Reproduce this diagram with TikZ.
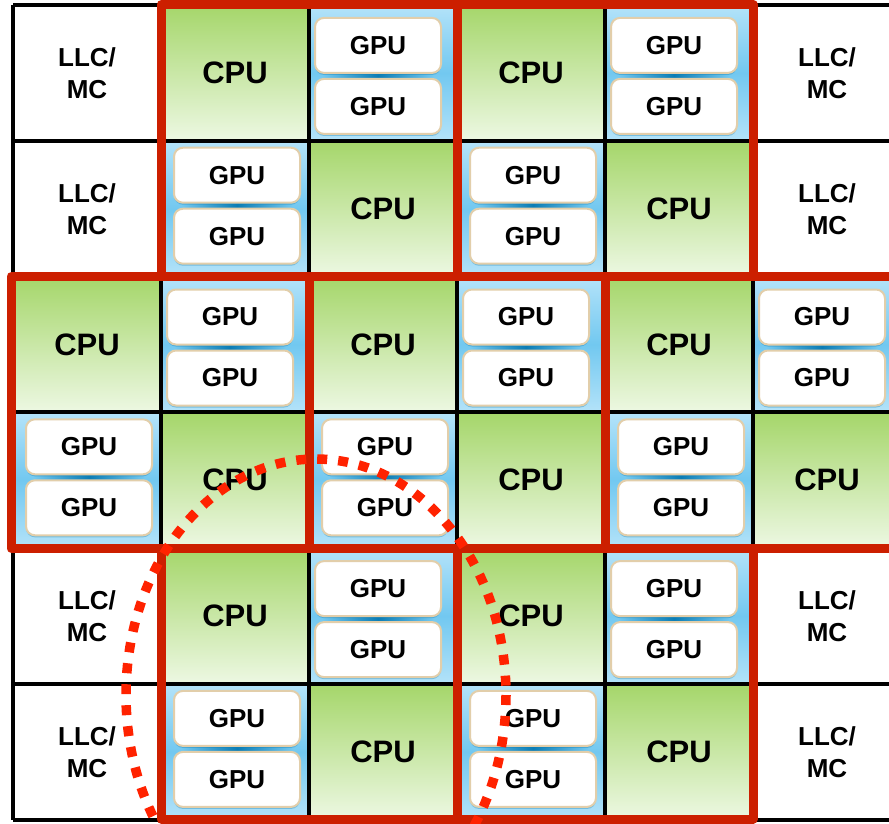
\documentclass[tikz,border=0pt]{standalone}
\usepackage{fontspec}
\setmainfont{Liberation Sans}
\usetikzlibrary{shadows}
\definecolor{cpuTop}{HTML}{A5D66A}
\definecolor{cpuBot}{HTML}{EDF8E3}
\definecolor{gpuSky}{HTML}{B4E3F9}
\definecolor{gpuMid}{HTML}{72C8F0}
\definecolor{gpuDeep}{HTML}{0B7DB5}
\definecolor{boxEdge}{HTML}{E2CEAA}
\definecolor{redLine}{HTML}{CC1F00}
\definecolor{dotRed}{HTML}{FF2200}
\tikzset{
  cell/.style={minimum width=148pt,minimum height=135.8pt,inner sep=0pt,outer sep=0pt,
    align=center,font=\bfseries\fontsize{26}{32}\selectfont},
  cpu/.style={cell,top color=cpuTop,bottom color=cpuBot,font=\bfseries\fontsize{31}{36}\selectfont},
  gpucell/.style={cell,top color=gpuSky,bottom color=gpuSky,middle color=gpuMid},
  llc/.style={cell,fill=white},
  gpubox/.style={draw=boxEdge,line width=2pt,fill=white,rounded corners=9pt,
    minimum width=126pt,minimum height=55pt,inner sep=0pt,
    font=\bfseries\fontsize{26}{30}\selectfont,
    drop shadow={shadow xshift=0pt,shadow yshift=-2pt,fill=gpuDeep,opacity=0.35}},
  gridline/.style={line width=4pt,black},
  block/.style={draw=redLine,line width=9pt,line join=round},
  ring/.style={draw=dotRed,line width=9.5pt,dash pattern=on 10pt off 11pt}
}
\begin{document}
\begin{tikzpicture}[x=1pt,y=-1pt]
\useasboundingbox (0,0) rectangle (889,823);
\clip (0,0) rectangle (889,823);
% tiles, row by row
\foreach \cells [count=\r] in {{L,C,G,C,G,L},{L,G,C,G,C,L},{C,G,C,G,C,G},{G,C,G,C,G,C},{L,C,G,C,G,L},{L,G,C,G,C,L}}{
  \foreach \t [count=\c] in \cells {
    \pgfmathsetmacro\cx{13+148*(\c-0.5)}
    \pgfmathsetmacro\cy{5+135.8*(\r-0.5)}
    \if\t L \node[llc] (cell-\r-\c) at (\cx,\cy) {LLC/\\MC};\fi
    \if\t C \node[cpu] (cell-\r-\c) at (\cx,\cy) {CPU};\fi
    \if\t G
      \pgfmathsetmacro\dx{isodd(\r)?-5:2}
      \pgfmathsetmacro\dy{isodd(\r)?3:-3}
      \node[gpucell] (cell-\r-\c) at (\cx,\cy) {};
      \shade[left color=gpuMid,right color=gpuMid,middle color=gpuDeep] (\cx+\dx-55,\cy+\dy-4) rectangle (\cx+\dx+55,\cy+\dy+4);
      \node[gpubox] (gpu-\r-\c-a) at (\cx+\dx,\cy+\dy-30.5) {GPU};
      \node[gpubox] (gpu-\r-\c-b) at (\cx+\dx,\cy+\dy+30.5) {GPU};
    \fi
  }
}
% grid
\foreach \c in {0,...,6}
\draw[gridline] (13+148*\c,5) -- (13+148*\c,820);
\foreach \r in {0,...,6}
\draw[gridline] (13,5+135.8*\r) -- (901,5+135.8*\r);
% red blocks
\draw[block] (161,4.5) rectangle (457,276.6) (457,4.5) rectangle (753,276.6);
\draw[block] (11,276.6) rectangle (309,548.2) (309,276.6) rectangle (605,548.2) (605,276.6) rectangle (915,548.2);
\draw[block] (161,548.2) rectangle (457,819) (457,548.2) rectangle (753,819);
% dotted ring
\draw[ring] (316,695) ellipse [x radius=190,y radius=236];
\end{tikzpicture}
\end{document}
